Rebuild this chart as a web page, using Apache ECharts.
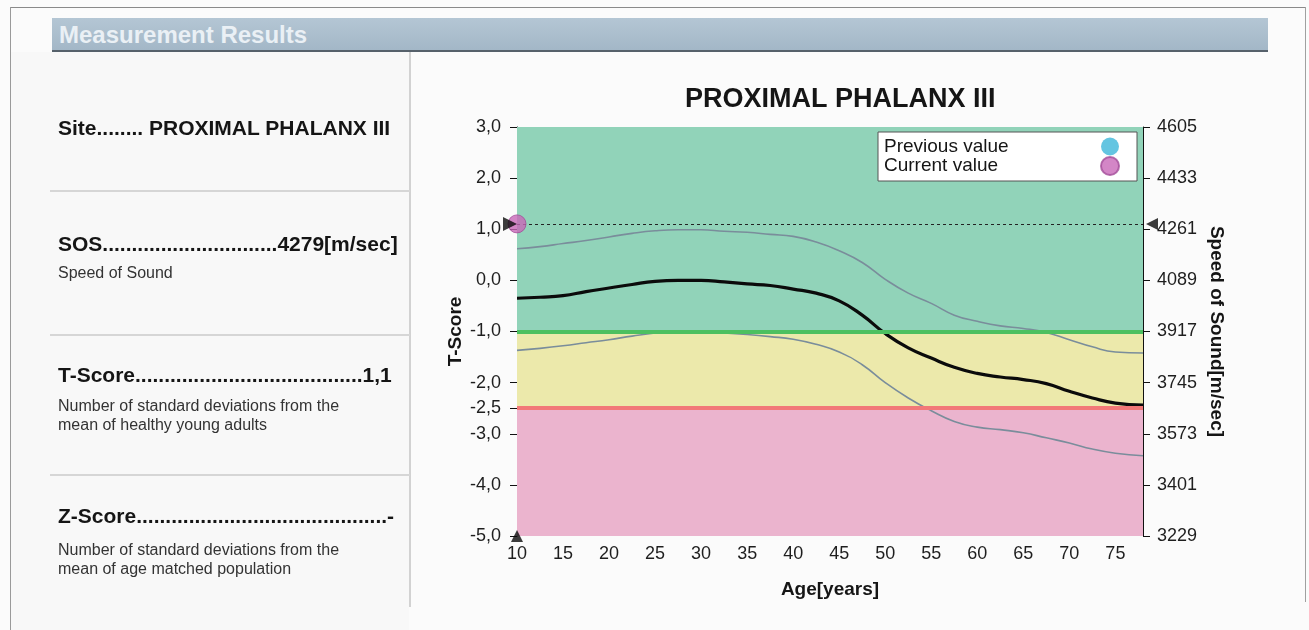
<!DOCTYPE html>
<html>
<head>
<meta charset="utf-8">
<script src="https://cdn.jsdelivr.net/npm/echarts@6/dist/echarts.min.js"></script>
<style>
  html, body { margin: 0; padding: 0; background: #fbfbfb; }
  body { width: 1309px; height: 630px; position: relative; overflow: hidden; font-family: "Liberation Sans", Arial, sans-serif; }
  #chart { position: absolute; left: 0; top: 0; width: 1309px; height: 630px; }
  .abs { position: absolute; white-space: nowrap; }
  .frame-top { left: 10px; top: 7px; width: 1296px; height: 1px; background: #8a8a8a; }
  .frame-left { left: 10px; top: 7px; width: 1px; height: 623px; background: #9a9a9a; }
  .frame-right { left: 1305px; top: 7px; width: 1px; height: 595px; background: #a0a0a0; }
  .header { left: 52px; top: 18px; width: 1216px; height: 32px; background: linear-gradient(#b4c6d4, #a3b7c7); border-bottom: 2px solid #56616b; }
  .header span { position: absolute; left: 7px; top: 3px; font-size: 24px; font-weight: bold; color: #eaf0f5; }
  .vsep { left: 409px; top: 52px; width: 2px; height: 555px; background: #d2d2d2; }
  .hsep { left: 50px; width: 360px; height: 2px; background: #d6d6d6; }
  .big { font-size: 21px; font-weight: bold; color: #151515; line-height: 24px; left: 58px; }
  .small { font-size: 16px; color: #333; line-height: 19px; left: 58px; }
  .leftpanel { left: 11px; top: 52px; width: 398px; height: 578px; background: #f8f8f8; }
</style>
</head>
<body>
<div class="abs leftpanel"></div>
<div id="chart"></div>
<div class="abs frame-top"></div>
<div class="abs frame-left"></div>
<div class="abs frame-right"></div>
<div class="abs header"><span>Measurement Results</span></div>
<div class="abs vsep"></div>
<div class="abs hsep" style="top:190px"></div>
<div class="abs hsep" style="top:334px"></div>
<div class="abs hsep" style="top:474px"></div>

<div class="abs big" style="top:116px">Site........ PROXIMAL PHALANX III</div>
<div class="abs big" style="top:232px">SOS..............................4279[m/sec]</div>
<div class="abs small" style="top:263px">Speed of Sound</div>
<div class="abs big" style="top:363px">T-Score.......................................1,1</div>
<div class="abs small" style="top:396px">Number of standard deviations from the<br>mean of healthy young adults</div>
<div class="abs big" style="top:504px">Z-Score...........................................-</div>
<div class="abs small" style="top:540px">Number of standard deviations from the<br>mean of age matched population</div>

<script>
// ---- data ----
const ages      = [10, 12.5, 15, 17.5, 20, 22.5, 25, 27.5, 30, 32.5, 35, 37.5, 40, 42.5, 45, 47.5, 50, 52.5, 55, 57.5, 60, 62.5, 65, 67.5, 70, 72.5, 75, 78];
const meanT     = [-0.35, -0.33, -0.30, -0.22, -0.15, -0.08, -0.02, 0.00, 0.00, -0.03, -0.07, -0.10, -0.17, -0.25, -0.40, -0.68, -1.04, -1.32, -1.52, -1.70, -1.82, -1.89, -1.94, -2.02, -2.17, -2.30, -2.40, -2.44];
const upperT    = [0.62, 0.66, 0.72, 0.78, 0.85, 0.92, 0.97, 0.99, 0.99, 0.96, 0.94, 0.90, 0.86, 0.75, 0.58, 0.35, 0.02, -0.25, -0.45, -0.68, -0.80, -0.89, -0.94, -1.02, -1.16, -1.30, -1.40, -1.42];
const lowerT    = [-1.37, -1.33, -1.28, -1.22, -1.16, -1.09, -1.03, -1.00, -1.01, -1.03, -1.06, -1.10, -1.15, -1.25, -1.40, -1.65, -2.00, -2.30, -2.55, -2.76, -2.87, -2.92, -2.98, -3.08, -3.18, -3.30, -3.38, -3.43];
const ageMin = 10, ageMax = 78;
const xTicks     = [10, 15, 20, 25, 30, 35, 40, 45, 50, 55, 60, 65, 70, 75];
const tTicks     = [-5, -4, -3, -2.5, -2, -1, 0, 1, 2, 3];
const sosTicks   = [3229, 3401, 3573, 3745, 3917, 4089, 4261, 4433, 4605];
const tMin = -5, tMax = 3, sosMin = 3229, sosMax = 4605;
const zones      = [[3, -1], [-1, -2.5], [-2.5, -5]];
const thresholds = [-1, -2.5];
const currentAge = 10, currentSOS = 4279;

const font = '"Liberation Sans", Arial, sans-serif';
const zoneColors = ['#91d3b9', '#ece9ab', '#ebb4ce'];
const thresholdColors = ['#4dc060', '#f27878'];

const chart = echarts.init(document.getElementById('chart'), null, { renderer: 'canvas' });

const pairs = arr => ages.map((a, i) => [a, arr[i]]);
const nameStyle = { fontSize: 19, fontWeight: 'bold', color: '#151515', fontFamily: font };

chart.setOption({
  animation: false,
  backgroundColor: 'transparent',
  textStyle: { fontFamily: font },
  title: {
    text: 'PROXIMAL PHALANX III',
    left: 680, top: 81,
    textStyle: { fontSize: 27, fontWeight: 'bold', color: '#151515', fontFamily: font }
  },
  legend: {
    orient: 'vertical',
    left: 878, top: 132,
    align: 'right',
    backgroundColor: '#ffffff',
    borderColor: '#555',
    borderWidth: 1,
    borderRadius: 0,
    padding: [5, 17, 5, 6],
    itemGap: 0,
    itemWidth: 18, itemHeight: 18,
    icon: 'circle',
    selectedMode: false,
    data: ['Previous value', 'Current value'],
    formatter: n => '{a|' + n + '}',
    textStyle: {
      fontFamily: font, color: '#151515', fontSize: 19,
      rich: { a: { width: 212, align: 'left', fontSize: 19, lineHeight: 20, color: '#151515', fontFamily: font } }
    }
  },
  grid: { left: 517, right: 166, top: 127, bottom: 94 },
  xAxis: {
    type: 'value', min: ageMin, max: ageMax, interval: 5,
    axisLine: { lineStyle: { color: '#111', width: 1 } },
    axisTick: { length: 8, customValues: xTicks, lineStyle: { color: '#111' } },
    axisLabel: { customValues: xTicks, fontSize: 18, color: '#1e1e1e', margin: 9, fontFamily: font },
    splitLine: { show: false },
    name: 'Age[years]', nameLocation: 'middle', nameGap: 44,
    nameTextStyle: nameStyle
  },
  yAxis: [
    {
      type: 'value', min: tMin, max: tMax, interval: 1, position: 'left',
      axisLine: { show: true, lineStyle: { color: '#111' } },
      axisTick: { show: true, length: 7, customValues: tTicks, lineStyle: { color: '#111' } },
      axisLabel: { customValues: tTicks, fontSize: 18, color: '#1e1e1e', margin: 16, fontFamily: font,
        formatter: v => v.toFixed(1).replace('.', ',') },
      splitLine: { show: false },
      name: 'T-Score', nameLocation: 'middle', nameGap: 52, nameRotate: 90,
      nameTextStyle: nameStyle
    },
    {
      type: 'value', min: sosMin, max: sosMax, position: 'right',
      axisLine: { show: true, lineStyle: { color: '#111' } },
      axisTick: { show: true, length: 7, customValues: sosTicks, lineStyle: { color: '#111' } },
      axisLabel: { customValues: sosTicks, fontSize: 18, color: '#1e1e1e', margin: 14, fontFamily: font,
        formatter: v => String(v) },
      splitLine: { show: false },
      name: 'Speed of Sound[m/sec]', nameLocation: 'middle', nameGap: 64, nameRotate: -90,
      nameTextStyle: nameStyle
    }
  ],
  series: [
    {
      name: 'zones', type: 'line', data: [], yAxisIndex: 0, silent: true,
      markArea: {
        silent: true,
        data: zones.map((z, i) => [
          { xAxis: ageMin, yAxis: z[0], itemStyle: { color: zoneColors[i], opacity: 1 } },
          { xAxis: ageMax, yAxis: z[1] }
        ])
      },
      markLine: {
        silent: true, symbol: 'none', label: { show: false },
        data: thresholds.map((t, i) => ({ yAxis: t, lineStyle: { color: thresholdColors[i], width: 4, type: 'solid' } }))
      }
    },
    {
      name: 'sosline', type: 'line', data: [], yAxisIndex: 1, silent: true,
      markLine: {
        silent: true, symbol: 'none', label: { show: false },
        data: [{ yAxis: currentSOS, lineStyle: { color: '#222', width: 1, type: [3, 3] } }]
      }
    },
    { name: 'upper', type: 'line', data: pairs(upperT), smooth: 0.5, showSymbol: false, silent: true,
      lineStyle: { color: '#7a8d9b', width: 1.6 }, z: 3 },
    { name: 'lower', type: 'line', data: pairs(lowerT), smooth: 0.5, showSymbol: false, silent: true,
      lineStyle: { color: '#7a8d9b', width: 1.6 }, z: 3 },
    { name: 'mean', type: 'line', data: pairs(meanT), smooth: 0.5, showSymbol: false, silent: true,
      lineStyle: { color: '#0b0b0b', width: 3.2 }, z: 4 },
    { name: 'Previous value', type: 'scatter', data: [], itemStyle: { color: '#3db6da' }, symbolSize: 18 },
    { name: 'Current value', type: 'scatter', yAxisIndex: 1, clip: false, z: 5,
      data: [[currentAge, currentSOS]], symbolSize: 18,
      itemStyle: { color: '#c868b8', borderColor: '#a24c98', borderWidth: 1 } },
    { name: 'markers', type: 'scatter', yAxisIndex: 1, clip: false, silent: true, z: 6,
      data: [
        { value: [currentAge, currentSOS], symbol: 'triangle', symbolRotate: -90, symbolSize: 14, symbolOffset: [-7, 0] },
        { value: [ageMax, currentSOS], symbol: 'triangle', symbolRotate: 90, symbolSize: 12, symbolOffset: [9, 0] },
        { value: [currentAge, sosMin], symbol: 'triangle', symbolRotate: 0, symbolSize: 12, symbolOffset: [0, 0] }
      ],
      itemStyle: { color: '#0b0b0b' }
    }
  ]
});
</script>
</body>
</html>
